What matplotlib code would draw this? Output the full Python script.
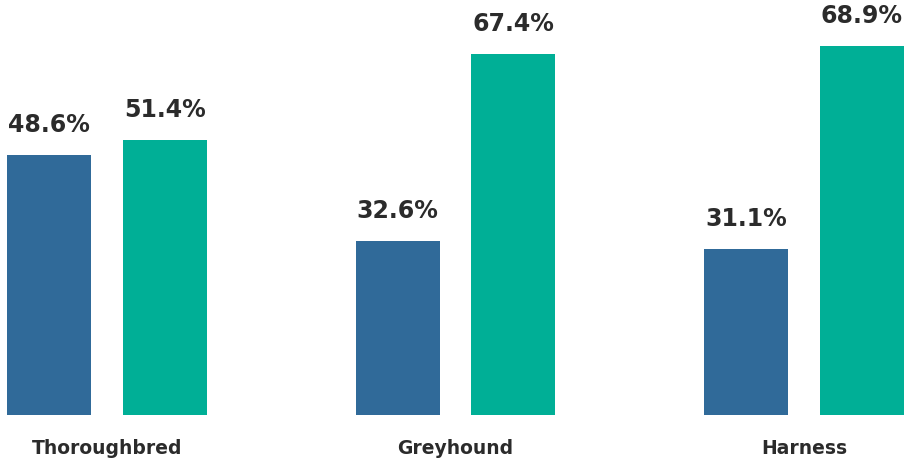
import matplotlib.pyplot as plt
import numpy as np

# Racing codes and the two shares per code
categories = ['Thoroughbred', 'Greyhound', 'Harness']
share_a = [48.6, 32.6, 31.1]
share_b = [51.4, 67.4, 68.9]

BLUE = '#306A99'
GREEN = '#00AF96'
TEXT = '#2B2B2B'

fig = plt.figure(figsize=(9.16, 4.58), dpi=100)
ax = fig.add_axes([0, 43 / 458, 1, 415 / 458])

x = np.arange(len(categories))
width = 0.241
offset = 0.1664

bars_a = ax.bar(x - offset, share_a, width, color=BLUE)
bars_b = ax.bar(x + offset, share_b, width, color=GREEN)

for bars, vals in ((bars_a, share_a), (bars_b, share_b)):
    for b, v in zip(bars, vals):
        ax.annotate(f'{v:.1f}%', xy=(b.get_x() + b.get_width() / 2, v),
                    xytext=(0, 16.5), textcoords='offset points',
                    ha='center', va='baseline', fontsize=17,
                    fontweight='bold', family='DejaVu Sans', color=TEXT)

ax.set_xlim(-107 / 348.5, (916 - 107) / 348.5)
ax.set_ylim(0, 415 / 5.35)
ax.set_xticks(x)
ax.set_xticklabels(categories, fontsize=13.5, fontweight='bold',
                   family='DejaVu Sans', color=TEXT)
ax.tick_params(axis='x', length=0, pad=17)
ax.set_yticks([])
for s in ax.spines.values():
    s.set_visible(False)

fig.savefig('out.png', dpi=100)
